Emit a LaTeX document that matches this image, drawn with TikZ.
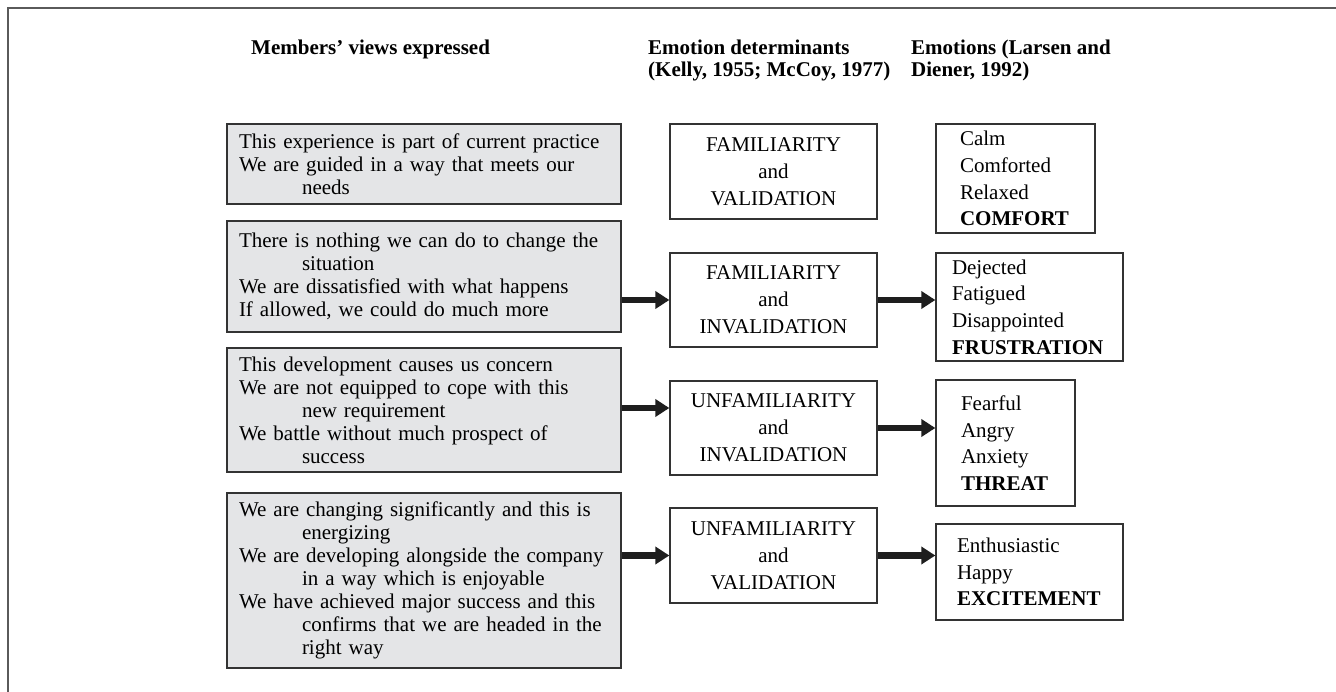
\documentclass[tikz,border=0pt]{standalone}
\usepackage{fontspec}
\setmainfont{Liberation Serif}
\usetikzlibrary{arrows.meta}
\definecolor{boxgray}{HTML}{E4E5E7}
\definecolor{linegray}{HTML}{333333}
\definecolor{framegray}{HTML}{5A5A5A}
\definecolor{arrowblack}{HTML}{1E1E1E}
\begin{document}
\begin{tikzpicture}[x=1pt,y=-1pt,
  font=\fontsize{21}{23}\selectfont,
  header/.style={anchor=base west, inner sep=0pt, font=\fontsize{21}{23}\selectfont\bfseries},
  viewbox/.style={draw=linegray, line width=1.3pt, fill=boxgray, text width=370pt,
    inner xsep=12pt, inner ysep=0pt, align=left, font=\fontsize{21}{23}\selectfont},
  detbox/.style={draw=linegray, line width=1.3pt, text width=207pt, minimum width=207pt,
    inner xsep=0pt, inner ysep=0pt, align=center, font=\fontsize{21}{27}\selectfont},
  emobox/.style={draw=linegray, line width=1.3pt, inner ysep=0pt, align=left,
    font=\fontsize{21}{26.7}\selectfont},
  flow/.style={draw=arrowblack, line width=6.8pt, -{Triangle[length=14pt,width=17pt]}}
]
\useasboundingbox (0,0) rectangle (1336,692);
% frame
\draw[framegray, line width=2pt] (7.5,692) -- (7.5,8) -- (1336,8);

% headers
\node[header] (h1) at (251,55) {Members’ views expressed};
\node[header] (h2a) at (648,55) {Emotion determinants};
\node[header] (h2b) at (648,77) {(Kelly, 1955; McCoy, 1977)};
\node[header] (h3a) at (911,55) {Emotions (Larsen and};
\node[header] (h3b) at (911,77) {Diener, 1992)};

% left column
\node[viewbox, minimum height=80pt] (L1) at (424,164)
  {This experience is part of current practice\\We are guided in a way that meets our\\\hspace*{63pt}needs};
\node[viewbox, minimum height=111pt] (L2) at (424,276.5)
  {There is nothing we can do to change the\\\hspace*{63pt}situation\\We are dissatisfied with what happens\\If allowed, we could do much more};
\node[viewbox, minimum height=124pt] (L3) at (424,410)
  {This development causes us concern\\We are not equipped to cope with this\\\hspace*{63pt}new requirement\\We battle without much prospect of\\\hspace*{63pt}success};
\node[viewbox, minimum height=175pt] (L4) at (424,580.5)
  {We are changing significantly and this is\\\hspace*{63pt}energizing\\We are developing alongside the company\\\hspace*{63pt}in a way which is enjoyable\\We have achieved major success and this\\\hspace*{63pt}confirms that we are headed in the\\\hspace*{63pt}right way};

% middle column
\node[detbox, minimum height=95pt] (M1) at (773.5,171.5) {FAMILIARITY\\and\\VALIDATION};
\node[detbox, minimum height=94pt] (M2) at (773.5,300) {FAMILIARITY\\and\\INVALIDATION};
\node[detbox, minimum height=94pt] (M3) at (773.5,428) {UNFAMILIARITY\\and\\INVALIDATION};
\node[detbox, minimum height=95pt] (M4) at (773.5,555.5) {UNFAMILIARITY\\and\\VALIDATION};

% right column
\node[emobox, minimum height=109pt, text width=111pt, inner xsep=24pt] (R1) at (1015.5,178.5)
  {Calm\\Comforted\\Relaxed\\\textbf{COMFORT}};
\node[emobox, minimum height=108pt, text width=155pt, inner xsep=16pt] (R2) at (1029.5,307)
  {Dejected\\Fatigued\\Disappointed\\\textbf{FRUSTRATION}};
\node[emobox, minimum height=126pt, text width=89pt, inner xsep=25pt] (R3) at (1005.5,443)
  {Fearful\\Angry\\Anxiety\\\textbf{THREAT}};
\node[emobox, minimum height=96pt, text width=145pt, inner xsep=21pt] (R4) at (1029.5,572)
  {Enthusiastic\\Happy\\\textbf{EXCITEMENT}};

% arrows
\draw[flow] (L2.east |- M2.west) -- (M2.west);
\draw[flow] (M2.east) -- (M2.east -| R2.west);
\draw[flow] ([yshift=2pt]L3.east) -- ([yshift=2pt]L3.east -| M3.west);
\draw[flow] (M3.east) -- (M3.east -| R3.west);
\draw[flow] (L4.east |- M4.west) -- (M4.west);
\draw[flow] (M4.east) -- (M4.east -| R4.west);
\end{tikzpicture}
\end{document}
